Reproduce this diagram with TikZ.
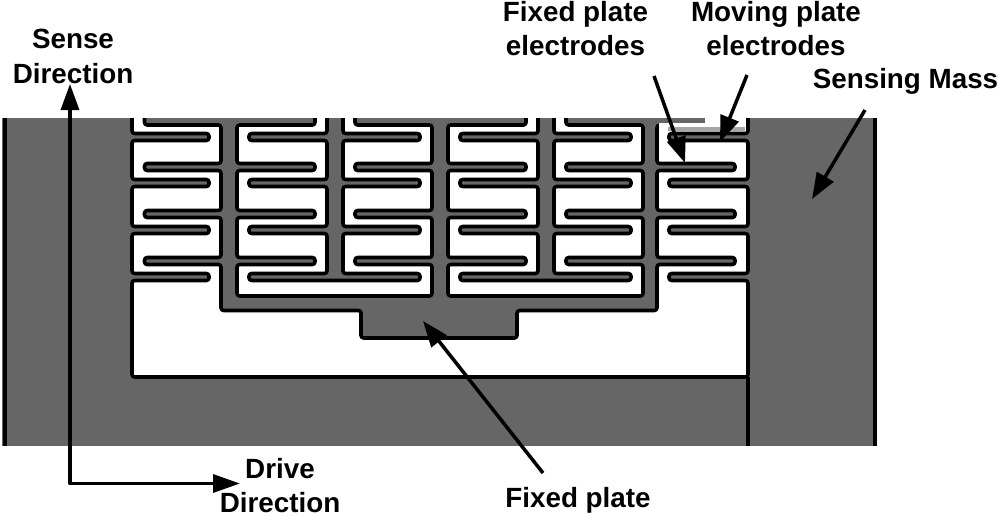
\documentclass[tikz,border=0pt]{standalone}
\usepackage{fontspec}
\setmainfont{Liberation Sans}
\usetikzlibrary{arrows.meta}
\definecolor{massgray}{gray}{0.4}
\definecolor{fadegray}{gray}{0.65}
\tikzset{
  cutout/.style={fill=white,draw=black,line width=3.6pt,rounded corners=2.6pt,line join=round},
  lbl/.style={font=\bfseries\fontsize{27.8}{34.5}\selectfont,align=center,inner sep=0pt,text=black},
  pointer/.style={draw=black,line width=3.5pt,-{Triangle[length=26pt,width=19pt]}},
  axis/.style={draw=black,line width=3.3pt,line join=round,{Triangle[length=26pt,width=18pt]}-{Triangle[length=27pt,width=18pt]}}
}
\newcommand{\pairwindow}[1]{%
\begin{scope}[xshift=#1]
\draw[cutout] (315,110)--(315,125)--(237,125)--(237,163.5)--(315,163.5)--(315,170.5)--(237,170.5)--(237,210.5)--(315,210.5)--(315,217.5)--(237,217.5)--(237,257.5)--(315,257.5)--(315,264.5)--(237,264.5)--(237,296)--(432,296)--(432,264.5)--(355,264.5)--(355,257.5)--(432,257.5)--(432,217.5)--(355,217.5)--(355,210.5)--(432,210.5)--(432,170.5)--(355,170.5)--(355,163.5)--(432,163.5)--(432,125)--(355,125)--(355,110)--(343,110)--(343,133.5)--(420,133.5)--(420,140.5)--(343,140.5)--(343,179.5)--(420,179.5)--(420,186.5)--(343,186.5)--(343,226.5)--(420,226.5)--(420,233.5)--(343,233.5)--(343,273.5)--(420,273.5)--(420,280.5)--(249,280.5)--(249,273.5)--(327,273.5)--(327,233.5)--(249,233.5)--(249,226.5)--(327,226.5)--(327,186.5)--(249,186.5)--(249,179.5)--(327,179.5)--(327,140.5)--(249,140.5)--(249,133.5)--(327,133.5)--(327,110)--cycle;
\end{scope}}
\begin{document}
\begin{tikzpicture}[x=1pt,y=-1pt]
\useasboundingbox (0,0) rectangle (1000,517);
\fill[massgray] (2,118) rectangle (875,446);
\begin{scope}
\clip (0,118) rectangle (880,446);
\draw[cutout] (144.5,110)--(144.5,125)--(221,125)--(221,163.5)--(144.5,163.5)--(144.5,170.5)--(221,170.5)--(221,210.5)--(144.5,210.5)--(144.5,217.5)--(221,217.5)--(221,257.5)--(144.5,257.5)--(144.5,264.5)--(221,264.5)--(221,310.5)--(361,310.5)--(361,338)--(517,338)--(517,310.5)--(657,310.5)--(657,264.5)--(735,264.5)--(735,257.5)--(657,257.5)--(657,217.5)--(735,217.5)--(735,210.5)--(657,210.5)--(657,170.5)--(735,170.5)--(735,163.5)--(657,163.5)--(657,125)--(735,125)--(735,110)--(748,110)--(748,133.5)--(669,133.5)--(669,140.5)--(748,140.5)--(748,179.5)--(669,179.5)--(669,186.5)--(748,186.5)--(748,226.5)--(669,226.5)--(669,233.5)--(748,233.5)--(748,273.5)--(669,273.5)--(669,280.5)--(748,280.5)--(748,377)--(132,377)--(132,280.5)--(209,280.5)--(209,273.5)--(132,273.5)--(132,233.5)--(209,233.5)--(209,226.5)--(132,226.5)--(132,186.5)--(209,186.5)--(209,179.5)--(132,179.5)--(132,140.5)--(209,140.5)--(209,133.5)--(132,133.5)--(132,110)--cycle;
\pairwindow{0pt}
\pairwindow{211pt}
\fill[white] (659,123) rectangle (745,127);
\fill[white] (705,116) rectangle (745,123);
\fill[fadegray] (668,127) rectangle (745,131);
\draw[black,line width=3.6pt] (748,377)--(748,446);
\draw[black,line width=4pt] (874.5,118)--(874.5,446);
\draw[black,line width=4pt] (5,118)--(5,446);
\end{scope}
\node[lbl] (sense) at (73,56.5) {Sense\\Direction};
\node[lbl] (drive) at (280,485.5) {Drive\\Direction};
\node[lbl] (fixedplate) at (578,500) {Fixed plate};
\node[lbl] (fixedel) at (575.5,28.5) {Fixed plate\\electrodes};
\node[lbl] (movingel) at (776,28.5) {Moving plate\\electrodes};
\node[lbl] (mass) at (905.5,81.5) {Sensing Mass};
\coordinate (origin) at (70,483.5);
\coordinate (senseend) at (70,84);
\coordinate (driveend) at (240,483.5);
\draw[axis] (senseend)--(origin)--(driveend);
\coordinate (a1) at (543,473); \coordinate (a2) at (423,321);
\coordinate (b1) at (654,76); \coordinate (b2) at (685,163);
\coordinate (c1) at (747,75); \coordinate (c2) at (720,142);
\coordinate (d1) at (865,110); \coordinate (d2) at (812,199);
\draw[pointer] (a1)--(a2);
\draw[pointer] (b1)--(b2);
\draw[pointer] (c1)--(c2);
\draw[pointer] (d1)--(d2);
\end{tikzpicture}
\end{document}
